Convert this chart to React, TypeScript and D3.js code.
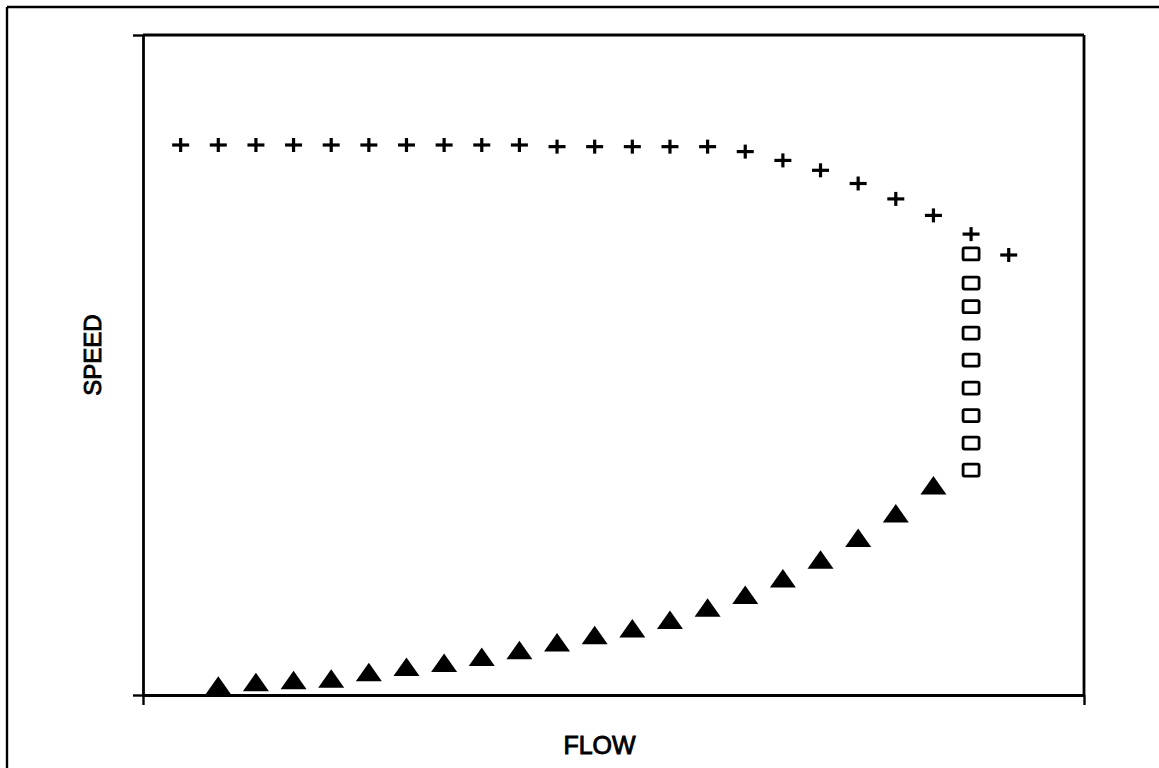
import React, { useEffect, useRef } from "react";
import * as d3 from "d3";

// Flow positions (index along the flow axis)
const plusFlow = [1, 2, 3, 4, 5, 6, 7, 8, 9, 10, 11, 12, 13, 14, 15, 16, 17, 18, 19, 20, 21, 22, 23];
const plusSpeed = [50, 50, 50, 50, 50, 50, 50, 50, 50, 50, 49.85, 49.85, 49.85, 49.85, 49.85, 49.4, 48.6, 47.7, 46.5, 45.1, 43.6, 41.9, 40.0];

const triFlow = [2, 3, 4, 5, 6, 7, 8, 9, 10, 11, 12, 13, 14, 15, 16, 17, 18, 19, 20, 21];
const triSpeed = [0.85, 1.16, 1.34, 1.48, 2.07, 2.55, 2.91, 3.45, 4.06, 4.77, 5.44, 6.05, 6.82, 7.93, 9.09, 10.6, 12.3, 14.27, 16.5, 19.05];

const sqFlow = [22, 22, 22, 22, 22, 22, 22, 22, 22];
const sqSpeed = [40.1, 37.45, 35.3, 32.9, 30.45, 27.9, 25.4, 22.9, 20.45];

const xDomain = [0, 25];
const yDomain = [0, 60];
const xLabel = "FLOW";
const yLabel = "SPEED";

const W = 1159;
const H = 768;
const left = 143;
const right = 1084;
const top = 35;
const bottom = 695;

export default function App() {
  const xAxisRef = useRef<SVGGElement>(null);
  const yAxisRef = useRef<SVGGElement>(null);

  const x = d3.scaleLinear().domain(xDomain).range([left, right]);
  const y = d3.scaleLinear().domain(yDomain).range([bottom, top]);

  useEffect(() => {
    if (xAxisRef.current) {
      const g = d3.select(xAxisRef.current);
      g.call(d3.axisBottom(x).tickValues(xDomain).tickSize(10).tickSizeOuter(0).tickFormat(() => ""));
      g.selectAll("path").attr("stroke", "#000").attr("stroke-width", 2.8);
      g.selectAll("line").attr("stroke", "#000").attr("stroke-width", 2.4);
    }
    if (yAxisRef.current) {
      const g = d3.select(yAxisRef.current);
      g.call(d3.axisLeft(y).tickValues(yDomain).tickSize(10).tickSizeOuter(0).tickFormat(() => ""));
      g.selectAll("path").attr("stroke", "#000").attr("stroke-width", 2.8);
      g.selectAll("line").attr("stroke", "#000").attr("stroke-width", 2.4);
    }
  }, []);

  const font = "'Liberation Sans', Arial, sans-serif";

  return (
    <svg
      width={W}
      height={H}
      style={{ position: "absolute", left: 0, top: 0, background: "#fff" }}
    >
      <rect x={0} y={0} width={W} height={H} fill="#fff" />
      {/* outer frame (top and left) */}
      <line x1={7} y1={7} x2={W} y2={7} stroke="#000" strokeWidth={2.4} />
      <line x1={7} y1={7} x2={7} y2={H} stroke="#000" strokeWidth={2.4} />

      {/* plot frame: top and right */}
      <line x1={x(xDomain[0])} y1={y(yDomain[1])} x2={x(xDomain[1])} y2={y(yDomain[1])} stroke="#000" strokeWidth={2.8} />
      <line x1={x(xDomain[1])} y1={y(yDomain[1])} x2={x(xDomain[1])} y2={y(yDomain[0])} stroke="#000" strokeWidth={2.8} />

      <g ref={xAxisRef} transform={`translate(0,${bottom})`} />
      <g ref={yAxisRef} transform={`translate(${left},0)`} />

      {/* plus markers */}
      <g stroke="#000" strokeWidth={3.2} strokeLinecap="butt">
        {plusFlow.map((f, i) => {
          const cx = x(f);
          const cy = y(plusSpeed[i]);
          return (
            <g key={`p${i}`}>
              <line x1={cx - 8.5} y1={cy} x2={cx + 8.5} y2={cy} />
              <line x1={cx} y1={cy - 7} x2={cx} y2={cy + 7} />
            </g>
          );
        })}
      </g>

      {/* square markers */}
      <g stroke="#000" strokeWidth={2.8} fill="none">
        {sqFlow.map((f, i) => (
          <rect
            key={`s${i}`}
            x={x(f) - 8}
            y={y(sqSpeed[i]) - 6}
            width={16}
            height={12}
            rx={1.5}
          />
        ))}
      </g>

      {/* triangle markers */}
      <g fill="#000">
        {triFlow.map((f, i) => {
          const cx = x(f);
          const cy = y(triSpeed[i]);
          return (
            <path
              key={`t${i}`}
              d={`M${cx},${cy - 9.5} L${cx + 13},${cy + 9} L${cx - 13},${cy + 9} Z`}
            />
          );
        })}
      </g>

      {/* axis titles */}
      <text
        x={(left + right) / 2 - 14}
        y={754}
        textAnchor="middle"
        fontFamily={font}
        fontSize={25}
        fill="#000"
        stroke="#000"
        strokeWidth={0.9}
      >
        {xLabel}
      </text>
      <text
        transform={`translate(101,355) rotate(-90)`}
        textAnchor="middle"
        fontFamily={font}
        fontSize={24}
        fill="#000"
        stroke="#000"
        strokeWidth={0.9}
      >
        {yLabel}
      </text>
    </svg>
  );
}
